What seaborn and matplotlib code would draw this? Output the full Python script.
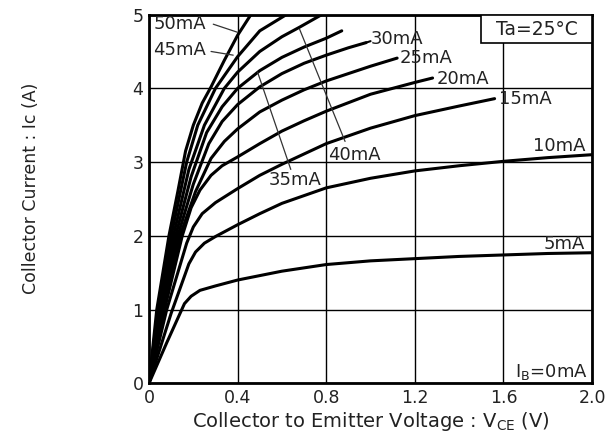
import numpy as np
import pandas as pd
import matplotlib
matplotlib.use('Agg')
import matplotlib.pyplot as plt
import seaborn as sns

# base current (mA) -> (Vce, Ic) points
ib_labels = [5, 10, 15, 20, 25, 30, 35, 40, 45, 50]

vce_5 = [0, 0.08, 0.16, 0.19, 0.23, 0.30, 0.40, 0.60, 0.80, 1.00, 1.20, 1.40, 1.60, 1.80, 2.00]
ic_5 = [0, 0.55, 1.08, 1.18, 1.26, 1.32, 1.40, 1.52, 1.61, 1.66, 1.69, 1.72, 1.74, 1.76, 1.77]

vce_10 = [0, 0.10, 0.18, 0.21, 0.25, 0.30, 0.40, 0.50, 0.60, 0.80, 1.00, 1.20, 1.40, 1.60, 1.80, 2.00]
ic_10 = [0, 0.95, 1.62, 1.78, 1.90, 1.99, 2.15, 2.30, 2.44, 2.65, 2.78, 2.88, 2.95, 3.01, 3.06, 3.10]

vce_15 = [0, 0.08, 0.17, 0.20, 0.24, 0.30, 0.40, 0.50, 0.60, 0.80, 1.00, 1.20, 1.40, 1.56]
ic_15 = [0, 1.00, 1.90, 2.12, 2.30, 2.45, 2.64, 2.82, 2.97, 3.25, 3.46, 3.63, 3.76, 3.86]

vce_20 = [0, 0.07, 0.15, 0.19, 0.23, 0.28, 0.33, 0.40, 0.50, 0.60, 0.70, 0.80, 1.00, 1.20, 1.28]
ic_20 = [0, 1.00, 2.00, 2.38, 2.62, 2.82, 2.95, 3.07, 3.25, 3.42, 3.56, 3.69, 3.92, 4.08, 4.14]

vce_25 = [0, 0.06, 0.14, 0.21, 0.28, 0.34, 0.40, 0.50, 0.60, 0.70, 0.80, 0.90, 1.00, 1.12]
ic_25 = [0, 1.00, 2.00, 2.60, 3.05, 3.28, 3.45, 3.68, 3.84, 3.98, 4.10, 4.20, 4.30, 4.41]

vce_30 = [0, 0.055, 0.13, 0.20, 0.27, 0.33, 0.40, 0.50, 0.60, 0.70, 0.80, 0.90, 0.98]
ic_30 = [0, 1.00, 2.00, 2.70, 3.25, 3.55, 3.78, 4.02, 4.20, 4.34, 4.45, 4.55, 4.62]

vce_35 = [0, 0.05, 0.12, 0.19, 0.26, 0.33, 0.40, 0.50, 0.60, 0.70, 0.80, 0.87]
ic_35 = [0, 1.00, 2.00, 2.80, 3.40, 3.75, 4.00, 4.24, 4.42, 4.56, 4.68, 4.78]

vce_40 = [0, 0.045, 0.11, 0.18, 0.25, 0.34, 0.40, 0.50, 0.60, 0.68, 0.78]
ic_40 = [0, 1.00, 2.00, 2.90, 3.50, 4.00, 4.22, 4.50, 4.70, 4.83, 5.00]

vce_45 = [0, 0.04, 0.10, 0.17, 0.22, 0.30, 0.40, 0.50, 0.62]
ic_45 = [0, 1.00, 2.00, 3.00, 3.50, 4.00, 4.43, 4.78, 5.00]

vce_50 = [0, 0.035, 0.09, 0.13, 0.165, 0.20, 0.24, 0.28, 0.34, 0.40, 0.46]
ic_50 = [0, 1.00, 2.00, 2.60, 3.15, 3.50, 3.80, 4.02, 4.38, 4.72, 5.00]

curves = {5: (vce_5, ic_5), 10: (vce_10, ic_10), 15: (vce_15, ic_15),
          20: (vce_20, ic_20), 25: (vce_25, ic_25), 30: (vce_30, ic_30),
          35: (vce_35, ic_35), 40: (vce_40, ic_40), 45: (vce_45, ic_45),
          50: (vce_50, ic_50)}

rows = []
for ib in ib_labels:
    v, i = curves[ib]
    for a, b in zip(v, i):
        rows.append({'ib': ib, 'vce': a, 'ic': b})
df = pd.DataFrame(rows)

x_ticks = [0, 0.4, 0.8, 1.2, 1.6, 2.0]
x_ticklabels = ['0', '0.4', '0.8', '1.2', '1.6', '2.0']
y_ticks = [0, 1, 2, 3, 4, 5]

sns.set_style('white')
plt.rcParams['font.family'] = ['DejaVu Sans']

fig = plt.figure(figsize=(6.11, 4.36), dpi=100)
ax = fig.add_axes([0.2439, 0.121, 0.7251, 0.8455])

ax.set_xlim(0, 2.0)
ax.set_ylim(0, 5)
ax.set_xticks(x_ticks)
ax.set_xticklabels(x_ticklabels)
ax.set_yticks(y_ticks)
ax.grid(True, color='black', linewidth=1.0)
ax.set_axisbelow(True)
ax.tick_params(length=0, labelsize=12.5, colors='#222222', pad=4)

sns.lineplot(data=df, x='vce', y='ic', units='ib', estimator=None, sort=False,
             color='black', linewidth=2.2, ax=ax, legend=False)

for s in ax.spines.values():
    s.set_color('black')
    s.set_linewidth(2)

ax.set_xlabel('Collector to Emitter Voltage : V$_{\\mathregular{CE}}$ (V)', fontsize=14, color='#222222')
ax.set_ylabel('Collector Current : Ic (A)', fontsize=12.5, color='#222222')
ax.xaxis.set_label_coords(0.5, -0.072)
ax.yaxis.set_label_coords(-0.245, 0.53)

# curve labels
tfs = 13
txt = dict(fontsize=tfs, color='#222222')
ax.text(0.02, 4.87, '50mA', ha='left', va='center', **txt)
ax.plot([0.29, 0.40], [4.87, 4.76], color='#333333', lw=0.9)
ax.text(0.02, 4.52, '45mA', ha='left', va='center', **txt)
ax.plot([0.28, 0.38], [4.50, 4.45], color='#333333', lw=0.9)

ax.text(1.00, 4.67, '30mA', ha='left', va='center', **txt)
ax.plot([0.98, 1.00], [4.62, 4.64], color='black', lw=1.5)
ax.text(1.13, 4.41, '25mA', ha='left', va='center', **txt)
ax.text(1.30, 4.13, '20mA', ha='left', va='center', **txt)
ax.text(1.58, 3.85, '15mA', ha='left', va='center', **txt)
ax.text(1.97, 3.22, '10mA', ha='right', va='center', **txt)
ax.text(1.97, 1.89, '5mA', ha='right', va='center', **txt)

ax.plot([0.68, 0.885], [4.80, 3.28], color='#333333', lw=0.9)
ax.text(0.81, 3.10, '40mA', ha='left', va='center', **txt)
ax.plot([0.49, 0.64], [4.22, 2.90], color='#333333', lw=0.9)
ax.text(0.54, 2.76, '35mA', ha='left', va='center', **txt)

ax.text(1.98, 0.15, 'I$_{\\mathregular{B}}$=0mA', ha='right', va='center', **txt)

# Ta box
ax.add_patch(plt.Rectangle((1.5, 4.61), 0.5, 0.39, fill=True, facecolor='white',
                           edgecolor='black', lw=1.2, zorder=3))
ax.text(1.75, 4.80, 'Ta=25°C', ha='center', va='center', zorder=4, fontsize=13.5, color='#222222')

fig.savefig('out.png', dpi=100)
